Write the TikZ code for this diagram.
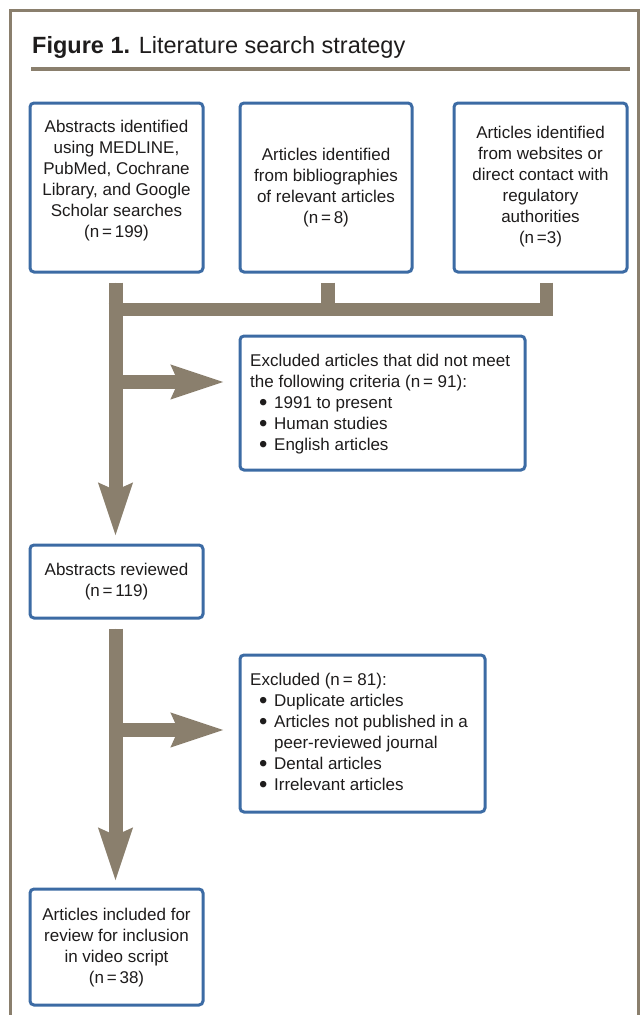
\documentclass[tikz,border=0pt]{standalone}
\usepackage{fontspec}
\setmainfont{Liberation Sans}
\usetikzlibrary{arrows.meta}
\definecolor{frame}{HTML}{8A7F6D}
\definecolor{boxblue}{HTML}{3C6BA4}
\definecolor{ink}{HTML}{1E1C1C}
\newcommand\bitem{\makebox[24pt][l]{\hspace{9pt}\raisebox{-2.3pt}[0pt][0pt]{\scalebox{1.4}{\textbullet}}}}
\begin{document}
\begin{tikzpicture}[x=1pt,y=-1pt,
  box/.style={draw=boxblue, line width=3pt, rounded corners=4pt, fill=white, inner sep=0pt},
  ctxt/.style={align=center, text=ink, font=\fontsize{17}{21}\selectfont, inner sep=0pt},
  ltxt/.style={align=left, text=ink, font=\fontsize{17}{21}\selectfont, inner sep=0pt, anchor=west},
  bar/.style={draw=frame, line width=14pt},
  flow/.style={draw=frame, line width=14pt, -{Stealth[length=52pt,width=32pt,inset=6pt]}, fill=frame}
]
\useasboundingbox (0,0) rectangle (643,1015);
% frame
\draw[frame, line width=3pt] (10,1020) -- (10,10) -- (638,10) -- (638,1020);
\node[anchor=base west, inner sep=0pt, text=ink, font=\fontsize{23.5}{28}\selectfont] (title) at (32,53) {\textbf{Figure 1.} Literature search strategy};
\draw[frame, line width=4pt] (31,69) -- (630,69);

% boxes
\node[box, minimum width=173pt, minimum height=169pt] (A) at (116.5,187.5) {};
\node[box, minimum width=172pt, minimum height=169pt] (B) at (326,187.5) {};
\node[box, minimum width=173pt, minimum height=169pt] (C) at (540.5,187.5) {};
\node[box, minimum width=285pt, minimum height=134pt] (E1) at (382.5,403) {};
\node[box, minimum width=173pt, minimum height=73pt] (R) at (116.5,581.5) {};
\node[box, minimum width=245pt, minimum height=157pt] (E2) at (362.5,733.5) {};
\node[box, minimum width=173pt, minimum height=116pt] (F) at (116.5,947) {};

% texts
\node[ctxt] (At) at (116.5,181) {Abstracts identified\\using MEDLINE,\\PubMed, Cochrane\\Library, and Google\\Scholar searches\\(n\,=\,199)};
\node[ctxt] (Bt) at (326,188) {Articles identified\\from bibliographies\\of relevant articles\\(n\,=\,8)};
\node[ctxt] (Ct) at (540.5,187) {Articles identified\\from websites or\\direct contact with\\regulatory\\authorities\\(n\,=3)};
\node[ltxt] (E1t) at (250,404) {Excluded articles that did not meet\\the following criteria (n\,= 91):\\\bitem 1991 to present\\\bitem Human studies\\\bitem English articles};
\node[ctxt] (Rt) at (116.5,582) {Abstracts reviewed\\(n\,=\,119)};
\node[ltxt] (E2t) at (250,732) {Excluded (n\,= 81):\\\bitem Duplicate articles\\\bitem Articles not published in a\\\hspace*{24pt}peer-reviewed journal\\\bitem Dental articles\\\bitem Irrelevant articles};
\node[ctxt] (Ft) at (116.5,948) {Articles included for\\review for inclusion\\in video script\\(n\,=\,38)};

% connectors
\coordinate (a0) at ([xshift=-1pt,yshift=-9pt]A.south);
\coordinate (b0) at ([xshift=2pt,yshift=-9pt]B.south);
\coordinate (c0) at ([xshift=6pt,yshift=-9pt]C.south);
\coordinate (hj) at (a0 |- 0,309.5);
\draw[bar, line width=13pt] ([xshift=-7pt]hj) -- (c0 |- hj);
\draw[bar] (b0) -- (b0 |- hj);
\draw[bar, line width=13pt] (c0) -- ([yshift=-6.5pt]c0 |- hj);
\draw[flow] (a0) -- ([yshift=7pt]R.north -| a0);
\draw[flow] (a0 |- 0,382) -- ([xshift=-14pt]E1.west |- 0,382);
\coordinate (r0) at ([xshift=-1pt,yshift=-9pt]R.south);
\draw[flow] (r0) -- ([yshift=6pt]F.north -| r0);
\draw[flow] (r0 |- 0,730) -- ([xshift=-14pt]E2.west |- 0,730);
\end{tikzpicture}
\end{document}
